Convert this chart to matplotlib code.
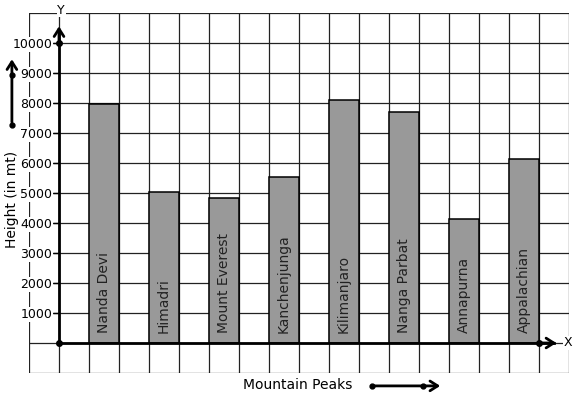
import numpy as np
import matplotlib
matplotlib.use("Agg")
import matplotlib.pyplot as plt

# Mountain heights
peaks = ["Nanda Devi", "Himadri", "Mount Everest", "Kanchenjunga",
         "Kilimanjaro", "Nanga Parbat", "Annapurna", "Appalachian"]
heights = [7970, 5050, 4850, 5530, 8100, 7700, 4150, 6120]
ytick_values = [1000, 2000, 3000, 4000, 5000, 6000, 7000, 8000, 9000, 10000]

fig = plt.figure(figsize=(5.77, 3.99), dpi=100)
ax = fig.add_axes([29 / 577, 26 / 399, 540 / 577, 360 / 399])
ax.set_xlim(-1, 17)
ax.set_ylim(-1000, 11000)

# graph paper grid
grid_kw = dict(color="#222222", lw=0.9, zorder=0)
for gx in range(-1, 18):
    ax.axvline(gx, **grid_kw)
for gy in range(-1000, 12000, 1000):
    ax.axhline(gy, **grid_kw)

# bars: one square wide, every second square
xpos = [2 * i + 1 for i in range(len(peaks))]
ax.bar(xpos, heights, width=1, align="edge", color="#999999",
       edgecolor="black", linewidth=1.1, zorder=2)
for x, name in zip(xpos, peaks):
    ax.text(x + 0.5, 330, name, rotation=90, ha="center", va="bottom",
            fontsize=10, color="#222222", zorder=3)

# axes through origin
for s in ["top", "right"]:
    ax.spines[s].set_visible(False)
ax.spines["left"].set_position(("data", 0))
ax.spines["bottom"].set_position(("data", 0))
ax.spines["left"].set_bounds(0, 10400)
ax.spines["bottom"].set_bounds(0, 16.5)
ax.spines["left"].set_linewidth(2)
ax.spines["bottom"].set_linewidth(2)
ax.spines["left"].set_zorder(4)
ax.spines["bottom"].set_zorder(4)
ax.set_xticks([])
ax.set_yticks(ytick_values)
ax.tick_params(axis="y", length=4, width=1, pad=1, labelsize=9)
for lab in ax.get_yticklabels():
    lab.set_bbox(dict(facecolor="white", edgecolor="none", pad=0.5))

arrow = dict(arrowstyle="->,head_length=0.55,head_width=0.35", lw=2, color="black")
ax.annotate("", xy=(0, 10650), xytext=(0, 10000), arrowprops=arrow,
            annotation_clip=False, zorder=5)
ax.annotate("", xy=(16.67, 0), xytext=(16, 0), arrowprops=arrow,
            annotation_clip=False, zorder=5)
ax.plot([0, 0, 16], [0, 10000, 0], "o", color="black", ms=4, zorder=5,
        clip_on=False)
ax.text(0.07, 11100, "Y", ha="center", va="center", fontsize=9,
        bbox=dict(facecolor="white", edgecolor="none", pad=0.5), zorder=6)
ax.text(16.97, 0, "X", ha="center", va="center", fontsize=9,
        bbox=dict(facecolor="white", edgecolor="none", pad=0.5), zorder=6,
        clip_on=False)

# axis titles with direction arrows
ax.text(-1.57, 4770, "Height (in mt)", rotation=90, ha="center", va="center",
        fontsize=10, clip_on=False)
ax.annotate("", xy=(-1.57, 9550), xytext=(-1.57, 7270), arrowprops=arrow,
            annotation_clip=False)
ax.plot([-1.57, -1.57], [7270, 8930], "o", color="black", ms=3.5, clip_on=False)

ax.text(7.97, -1400, "Mountain Peaks", ha="center", va="center",
        fontsize=10, clip_on=False)
ax.annotate("", xy=(12.8, -1430), xytext=(10.43, -1430), arrowprops=arrow,
            annotation_clip=False)
ax.plot([10.43, 12.13], [-1430, -1430], "o", color="black", ms=3.5,
        clip_on=False)

fig.savefig("out.png", dpi=100)
